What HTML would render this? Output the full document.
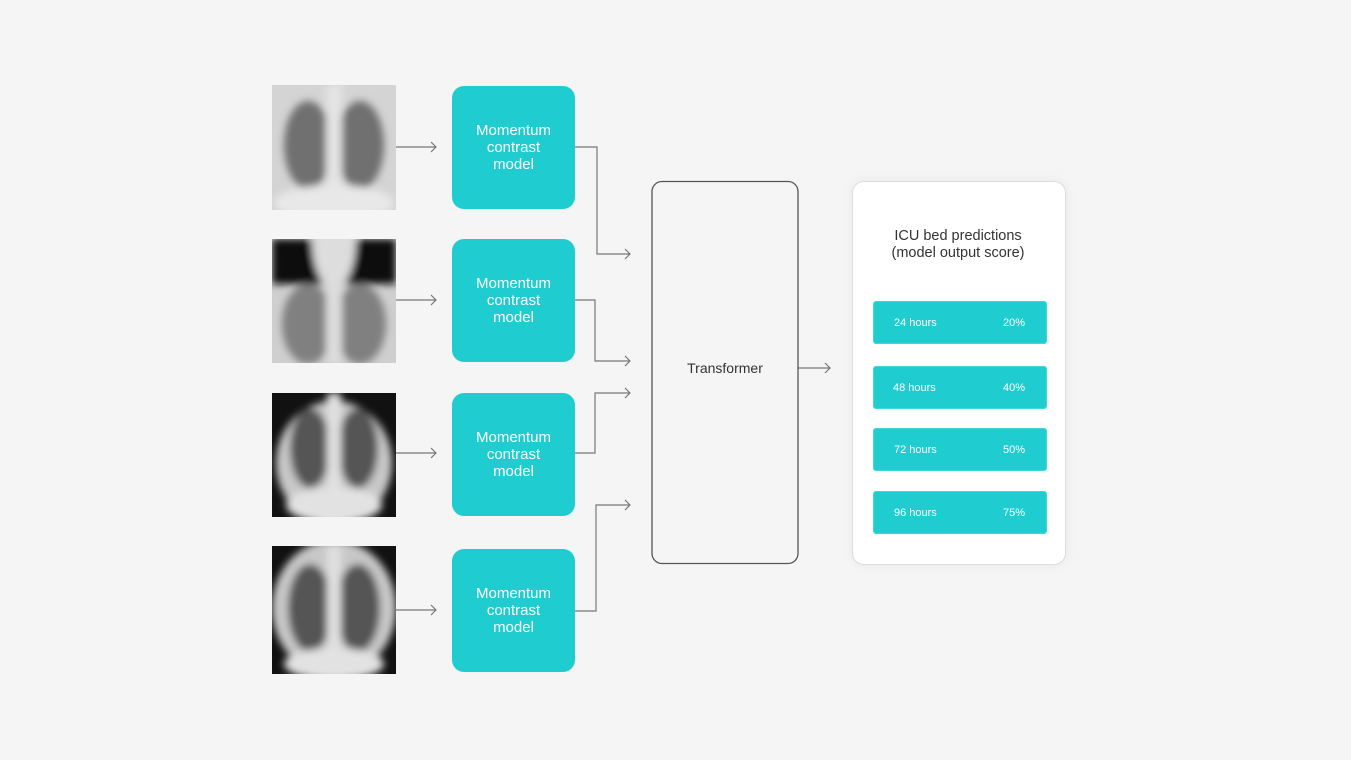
<!DOCTYPE html>
<html><head><meta charset="utf-8"><style>
html,body{margin:0;padding:0;background:#f5f5f5;}
body{width:1351px;height:760px;position:relative;overflow:hidden;font-family:"Liberation Sans",sans-serif;}
.box{position:absolute;left:452px;width:123px;height:123px;background:#1fcdd1;border-radius:12px;color:#fff;font-size:15px;line-height:17px;display:flex;align-items:center;justify-content:center;text-align:center;}
.xr{position:absolute;left:272px;width:124px;}
.card{position:absolute;left:852px;top:181px;width:212px;height:382px;background:#fff;border:1px solid #ddd;border-radius:12px;box-shadow:0 0 12px rgba(0,0,0,0.06);}
.bar{position:absolute;left:873px;width:172px;height:41px;background:#1fcdd1;border:1px solid #3fd8dc;border-radius:3px;color:#fff;font-size:11px;}
.bar span{position:absolute;top:15px;}
</style></head><body>
<svg width="0" height="0" style="position:absolute">
<defs>
<filter id="bl" x="-20%" y="-20%" width="140%" height="140%"><feGaussianBlur stdDeviation="4"/></filter>
</defs>
</svg>

<svg class="xr" style="top:85px" height="125" viewBox="0 0 124 125"><rect width="124" height="125" fill="#d4d4d4"/><g filter="url(#bl)"><ellipse cx="36" cy="60" rx="24" ry="44" fill="#707070"/><ellipse cx="88" cy="60" rx="24" ry="44" fill="#707070"/><rect x="54" y="0" width="16" height="125" fill="#e4e4e4"/><ellipse cx="62" cy="118" rx="60" ry="18" fill="#e8e8e8"/></g></svg>
<svg class="xr" style="top:239px" height="124" viewBox="0 0 124 124"><rect width="124" height="124" fill="#cfcfcf"/><g filter="url(#bl)"><rect x="0" y="0" width="124" height="45" fill="#111"/><ellipse cx="62" cy="0" rx="22" ry="50" fill="#ddd"/><ellipse cx="36" cy="85" rx="26" ry="40" fill="#808080"/><ellipse cx="88" cy="85" rx="26" ry="40" fill="#808080"/><rect x="54" y="30" width="16" height="94" fill="#ddd"/></g></svg>
<svg class="xr" style="top:393px" height="124" viewBox="0 0 124 124"><rect width="124" height="124" fill="#111"/><g filter="url(#bl)"><ellipse cx="62" cy="70" rx="58" ry="62" fill="#c8c8c8"/><ellipse cx="38" cy="55" rx="20" ry="40" fill="#555"/><ellipse cx="86" cy="55" rx="20" ry="40" fill="#555"/><rect x="55" y="0" width="14" height="124" fill="#e0e0e0"/><ellipse cx="62" cy="112" rx="48" ry="18" fill="#e2e2e2"/></g></svg>
<svg class="xr" style="top:546px" height="128" viewBox="0 0 124 128"><rect width="124" height="128" fill="#111"/><g filter="url(#bl)"><ellipse cx="62" cy="62" rx="62" ry="68" fill="#c8c8c8"/><ellipse cx="38" cy="62" rx="22" ry="44" fill="#555"/><ellipse cx="86" cy="62" rx="22" ry="44" fill="#555"/><rect x="55" y="0" width="14" height="128" fill="#e0e0e0"/><ellipse cx="62" cy="118" rx="50" ry="16" fill="#e2e2e2"/></g></svg>

<div class="box" style="top:86px">Momentum<br>contrast<br>model</div>
<div class="box" style="top:239px">Momentum<br>contrast<br>model</div>
<div class="box" style="top:393px">Momentum<br>contrast<br>model</div>
<div class="box" style="top:549px">Momentum<br>contrast<br>model</div>

<svg style="position:absolute;left:0;top:0" width="1351" height="760">
<g stroke="#777" stroke-width="1.2" fill="none">
<path d="M396 147H436M431 142L436 147L431 152"/>
<path d="M396 300H436M431 295L436 300L431 305"/>
<path d="M396 453H436M431 448L436 453L431 458"/>
<path d="M396 610H436M431 605L436 610L431 615"/>
<path d="M575 147H597V254H630M625 249L630 254L625 259"/>
<path d="M575 300H595V361H630M625 356L630 361L625 366"/>
<path d="M575 453H595V393H630M625 388L630 393L625 398"/>
<path d="M575 611H596V505H630M625 500L630 505L625 510"/>
<path d="M798 368H830M825 363L830 368L825 373"/>
</g>
<rect x="652" y="181.5" width="146" height="382" rx="10" fill="none" stroke="#555" stroke-width="1.3"/>
<text x="725" y="373" text-anchor="middle" font-family="Liberation Sans, sans-serif" font-size="14" fill="#333">Transformer</text>
</svg>

<div class="card"></div>
<div style="position:absolute;left:852px;top:228px;width:212px;text-align:center;font-size:14.5px;line-height:17px;color:#333">ICU bed predictions<br>(model output score)</div>
<div class="bar" style="top:301px"><span style="left:20px">24 hours</span><span style="right:21px">20%</span></div>
<div class="bar" style="top:366px"><span style="left:19px">48 hours</span><span style="right:21px">40%</span></div>
<div class="bar" style="top:428px"><span style="left:20px">72 hours</span><span style="right:21px">50%</span></div>
<div class="bar" style="top:491px"><span style="left:20px">96 hours</span><span style="right:21px">75%</span></div>
</body></html>
